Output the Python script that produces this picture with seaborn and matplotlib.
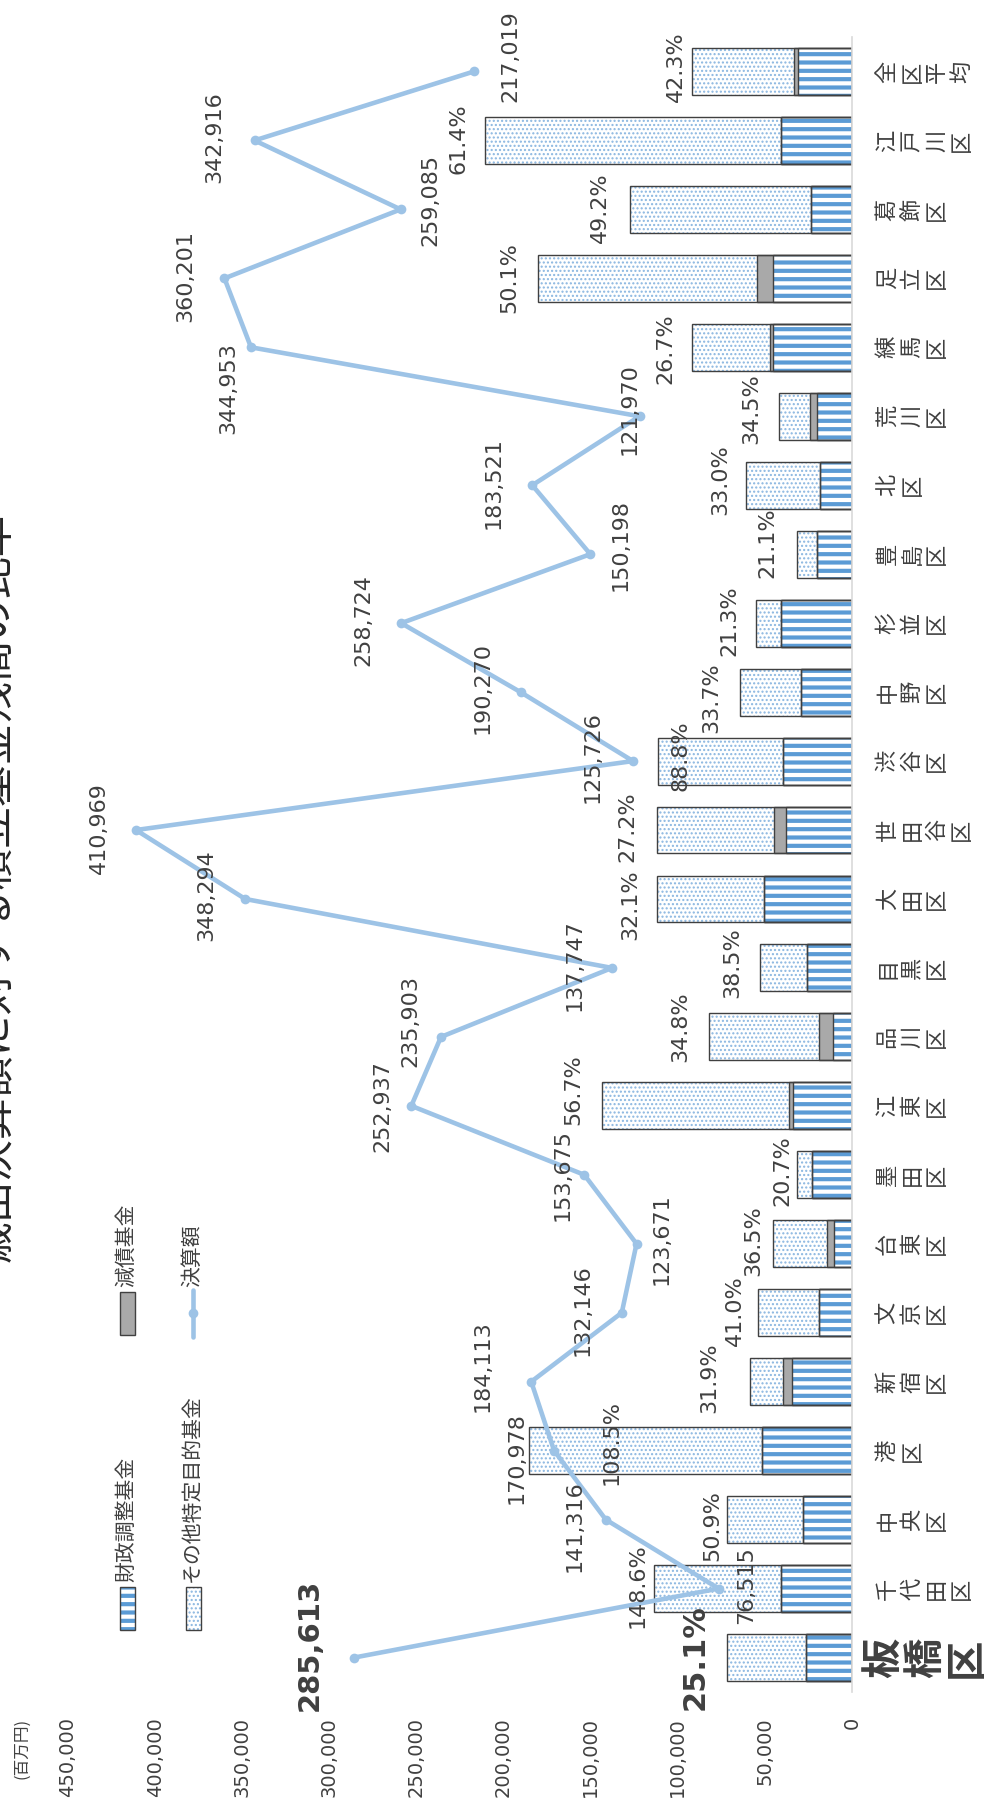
import numpy as np
import pandas as pd
import matplotlib
matplotlib.use("Agg")
import matplotlib.pyplot as plt
import seaborn as sns
from matplotlib.patches import Rectangle
from matplotlib.lines import Line2D
from matplotlib.transforms import ScaledTranslation

# ---------------- data ----------------
categories = ["板橋区", "千代田区", "中央区", "港区", "新宿区", "文京区", "台東区", "墨田区",
              "江東区", "品川区", "目黒区", "大田区", "世田谷区", "渋谷区", "中野区", "杉並区",
              "豊島区", "北区", "荒川区", "練馬区", "足立区", "葛飾区", "江戸川区", "全区平均"]
fiscal_adjustment = [26400, 41000, 28200, 51800, 34400, 18800, 10100, 22800,
                     33700, 10900, 26100, 50700, 38000, 39800, 29000, 40500,
                     19900, 18100, 19900, 45300, 45300, 23500, 40500, 30800]
debt_reduction = [0, 0, 0, 0, 5400, 0, 4300, 0,
                  2500, 8000, 0, 0, 6500, 0, 0, 0,
                  0, 0, 4300, 1500, 9000, 0, 0, 2500]
other_funds = [45300, 72700, 43700, 133700, 18900, 35400, 30700, 9000,
               107200, 63200, 26900, 61100, 67300, 71800, 35100, 14600,
               11800, 42500, 17900, 45300, 126200, 104000, 170000, 58500]
settlement = [285613, 76515, 141316, 170978, 184113, 132146, 123671, 153675,
              252937, 235903, 137747, 348294, 410969, 125726, 190270, 258724,
              150198, 183521, 121970, 344953, 360201, 259085, 342916, 217019]
ratio_labels = ["25.1%", "148.6%", "50.9%", "108.5%", "31.9%", "41.0%", "36.5%", "20.7%",
                "56.7%", "34.8%", "38.5%", "32.1%", "27.2%", "88.8%", "33.7%", "21.3%",
                "21.1%", "33.0%", "34.5%", "26.7%", "50.1%", "49.2%", "61.4%", "42.3%"]
value_ticks = list(range(0, 450001, 50000))
legend_labels = ["財政調整基金", "減債基金", "その他特定目的基金", "決算額"]
title = "歳出決算額に対する積立基金残高の比率"
unit_label = "(百万円)"
highlight = "板橋区"

# ---------------- layout (label offsets in pixels: right, down) ----------------
ratio_offsets = [(-32, 0), (-16, -3), (-14, 6), (83, -8), (-40, -4), (-23, -2), (-20, -3), (-14, -4),
                 (-29, -16), (-29, -10), (-27, -5), (-27, 6), (-30, -3), (23, -5), (-29, 6), (-27, -2),
                 (-29, -11), (-26, -6), (-27, -8), (-26, 1), (-28, -1), (-30, -2), (-27, -2), (-16, -5)]
value_offsets = [(-45, -13), (27, -3), (-31, 7), (-38, 7), (-49, -16), (-39, -3), (25, -5), (-22, 0),
                 (-29, 0), (-31, -16), (-37, -3), (-39, -4), (-37, -2), (-40, -4), (-38, -4), (-38, -3),
                 (30, -9), (-39, -2), (-10, -7), (-23, 41), (-39, -2), (30, -9), (-40, -3), (36, -15)]

STRIPE = "#5B9BD5"
DOT = "#8AB6E0"
GRAY = "#A9A9A9"
EDGE = "#404040"
LINE = "#9DC3E6"
TXT = "#404040"
CJK = ["Noto Sans CJK JP", "DejaVu Sans"]

sns.set_theme(style="white")
plt.rcParams["font.family"] = ["DejaVu Sans", "Noto Sans CJK JP"]
plt.rcParams["hatch.linewidth"] = 1.0

W, H = 989, 1802
fig = plt.figure(figsize=(W / 100, H / 100), dpi=100)
fig.patch.set_facecolor("white")
ax = fig.add_axes([68 / W, 1 - 1692 / H, (852 - 68) / W, (1692 - 37) / H])


def fx(x):
    return x / W


def fy(y):
    return 1 - y / H


df = pd.DataFrame({
    "区": categories,
    "財政調整基金": fiscal_adjustment,
    "減債基金": debt_reduction,
    "その他特定目的基金": other_funds,
    "決算額": settlement,
})
df["layer_base"] = df["財政調整基金"]
df["layer_mid"] = df["財政調整基金"] + df["減債基金"]
df["layer_total"] = df["layer_mid"] + df["その他特定目的基金"]
order_top = categories[::-1]
df["pos"] = [order_top.index(c) for c in categories]


def bars(col):
    n0 = len(ax.patches)
    sns.barplot(data=df, x=col, y="区", order=order_top, orient="y", width=0.68,
                errorbar=None, ax=ax)
    return ax.patches[n0:]


def set_hlw(p, lw):
    if hasattr(p, "set_hatch_linewidth"):
        p.set_hatch_linewidth(lw)


for p in bars("layer_total"):
    p.set_facecolor("white"); p.set_edgecolor(DOT); p.set_linewidth(0)
    p.set_hatch("...."); set_hlw(p, 1.0)
for p in bars("layer_mid"):
    p.set_facecolor(GRAY); p.set_edgecolor(GRAY); p.set_linewidth(0); p.set_hatch(None)
for p in bars("layer_base"):
    p.set_facecolor("white"); p.set_edgecolor(STRIPE); p.set_linewidth(0)
    p.set_hatch("--"); set_hlw(p, 3.0)
for col in ["layer_total", "layer_mid", "layer_base"]:
    for p in bars(col):
        p.set_facecolor("none"); p.set_edgecolor(EDGE); p.set_linewidth(1.0); p.set_hatch(None)

sns.lineplot(data=df, x="決算額", y="pos", sort=False, orient="y", estimator=None,
             color=LINE, linewidth=3.3, marker="o", markersize=7, markeredgewidth=0,
             legend=False, ax=ax, zorder=4)

# ---------------- labels ----------------
for i, c in enumerate(categories):
    big = c == highlight
    dx, dy = ratio_offsets[i]
    ax.annotate(ratio_labels[i], xy=(df["layer_total"][i], df["pos"][i]), xytext=(dx, -dy),
                textcoords="offset pixels", rotation=90, ha="center", va="center",
                fontsize=22 if big else 16, fontweight="bold" if big else "normal",
                color=TXT, annotation_clip=False, zorder=6)
    dx, dy = value_offsets[i]
    ax.annotate(f"{settlement[i]:,}", xy=(settlement[i], df["pos"][i]), xytext=(dx, -dy),
                textcoords="offset pixels", rotation=90, ha="center", va="center",
                fontsize=21 if big else 16, fontweight="bold" if big else "normal",
                color=TXT, annotation_clip=False, zorder=6)

# ---------------- axes ----------------
ax.set_xlim(450000, 0)
ax.set_ylim(len(categories) - 0.5, -0.5)
ax.set_xlabel("")
ax.set_ylabel("")
ax.set_xticks(value_ticks)
ax.set_xticklabels([f"{v:,}" for v in value_ticks])
ax.tick_params(axis="x", labelrotation=90, labelsize=14, length=0, pad=18, labelcolor=TXT)
ax.set_yticks(range(len(order_top)))
ax.set_yticklabels(["\n".join(c) for c in order_top])
ax.yaxis.tick_right()
ax.tick_params(axis="y", length=0, pad=17, labelsize=16, labelcolor=TXT,
               labelleft=False, labelright=True)
for lbl, c in zip(ax.get_yticklabels(), order_top):
    lbl.set_rotation(90)
    lbl.set_ha("left")
    lbl.set_va("center")
    lbl.set_linespacing(1.1)
    lbl.set_fontfamily(CJK)
    if c == highlight:
        lbl.set_fontsize(29)
        lbl.set_fontweight("bold")
        lbl.set_linespacing(1.0)
        lbl.set_transform(lbl.get_transform() + ScaledTranslation(-12 / 100, 0, fig.dpi_scale_trans))
for s in ["top", "left", "bottom"]:
    ax.spines[s].set_visible(False)
ax.spines["right"].set_color("#D9D9D9")
ax.spines["right"].set_linewidth(1.2)
ax.grid(False)

# ---------------- legend (rotated, drawn manually) ----------------
def legend_patch(x0, y0, face, edge, hatch, hlw):
    r = Rectangle((fx(x0), fy(y0 + 43)), 15 / W, 43 / H, transform=fig.transFigure,
                  facecolor=face, edgecolor=edge, linewidth=0, hatch=hatch)
    if hatch:
        set_hlw(r, hlw)
    fig.add_artist(r)
    fig.add_artist(Rectangle((fx(x0), fy(y0 + 43)), 15 / W, 43 / H, transform=fig.transFigure,
                             facecolor="none", edgecolor=EDGE, linewidth=1.0))


legend_patch(120, 1587, "white", STRIPE, "--", 3.0)
legend_patch(120, 1292, GRAY, GRAY, None, 1.0)
legend_patch(186, 1587, "white", DOT, "....", 1.0)
fig.add_artist(Line2D([fx(193), fx(193)], [fy(1290), fy(1337)], transform=fig.transFigure,
                      color=LINE, linewidth=3.3))
fig.add_artist(Line2D([fx(193)], [fy(1313)], transform=fig.transFigure, color=LINE,
                      marker="o", markersize=7, markeredgewidth=0, linestyle="none"))
for (x, y), t in zip([(126, 1582), (126, 1287), (192, 1582), (192, 1287)], legend_labels):
    fig.text(fx(x), fy(y), t, rotation=90, ha="center", va="bottom", fontsize=15,
             color=TXT, family=CJK)

fig.text(fx(-4), fy(887), title, rotation=90, ha="center", va="center", fontsize=30,
         color="#262626", family=CJK)
fig.text(fx(22), fy(1748), unit_label, rotation=90, ha="center", va="center", fontsize=12,
         color=TXT, family=CJK)

fig.savefig("out.png", dpi=100, facecolor="white")
